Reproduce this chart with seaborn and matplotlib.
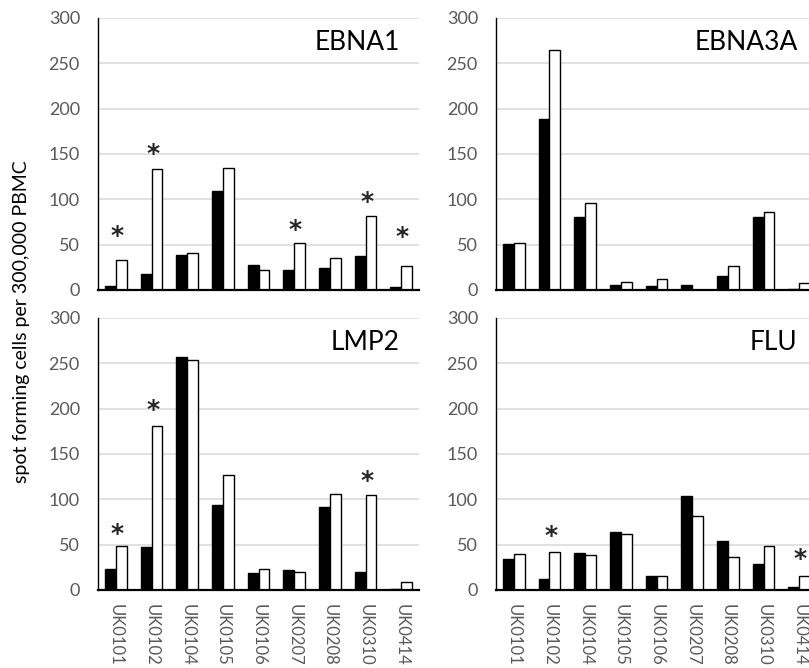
import matplotlib
matplotlib.use("Agg")
import matplotlib.pyplot as plt
import seaborn as sns
import pandas as pd

# donors on the x axis
donors = ["UK0101", "UK0102", "UK0104", "UK0105", "UK0106",
          "UK0207", "UK0208", "UK0310", "UK0414"]

# black bars / white bars, spot forming cells per 300,000 PBMC
ebna1_black = [4, 18, 39, 109, 28, 22, 24, 37, 3]
ebna1_white = [33, 134, 41, 135, 22, 52, 35, 82, 27]
ebna1_stars = [67, 158, None, None, None, 74, None, 105, 66]

ebna3a_black = [51, 189, 80, 5, 4, 5, 15, 80, 1]
ebna3a_white = [52, 265, 96, 9, 12, 0.5, 27, 86, 8]
ebna3a_stars = [None] * 9

lmp2_black = [23, 47, 257, 94, 19, 22, 91, 20, 1]
lmp2_white = [48, 181, 254, 127, 23, 20, 106, 105, 9]
lmp2_stars = [69, 206, None, None, None, None, None, 128, None]

flu_black = [34, 12, 41, 64, 15, 104, 54, 29, 3]
flu_white = [40, 42, 39, 62, 15, 82, 36, 48, 15]
flu_stars = [None, 67, None, None, None, None, None, None, 42]

panel_names = ["EBNA1", "EBNA3A", "LMP2", "FLU"]
panels = [(ebna1_black, ebna1_white, ebna1_stars),
          (ebna3a_black, ebna3a_white, ebna3a_stars),
          (lmp2_black, lmp2_white, lmp2_stars),
          (flu_black, flu_white, flu_stars)]

sns.set_style("white")
plt.rcParams["font.family"] = ["Lato", "DejaVu Sans"]

fig = plt.figure(figsize=(8.09, 6.68), dpi=100)

W, H = 809, 668
# axes boxes in pixels: left, top, right, bottom
boxes = [(98, 18, 419, 290), (496, 18, 817, 290),
         (98, 318, 419, 590), (496, 318, 817, 590)]

tick_grey = "#595959"

for k, (name, (blk, wht, stars)) in enumerate(zip(panel_names, panels)):
    l, t, r, b = boxes[k]
    ax = fig.add_axes([l / W, 1 - b / H, (r - l) / W, (b - t) / H])

    df = pd.DataFrame({
        "donor": donors * 2,
        "sfc": blk + wht,
        "group": ["black"] * len(donors) + ["white"] * len(donors),
    })
    sns.barplot(data=df, x="donor", y="sfc", hue="group", order=donors,
                palette=["black", "white"], edgecolor="black", linewidth=1,
                width=0.61, saturation=1, legend=False, ax=ax)

    # significance stars
    for i, s in enumerate(stars):
        if s is not None:
            ax.annotate("*", xy=(i + 0.03, s), xytext=(0, -10),
                        textcoords="offset points", ha="center",
                        va="baseline", fontsize=18, fontweight="bold",
                        family="DejaVu Sans")

    ax.set_ylim(0, 300)
    ax.set_xlim(-0.5, len(donors) - 0.5)
    ax.set_yticks(range(0, 301, 50))
    ax.yaxis.grid(True, color="#d9d9d9", linewidth=1.1)
    ax.set_axisbelow(True)
    ax.set_xlabel("")
    ax.set_ylabel("")

    for sp in ["top", "right"]:
        ax.spines[sp].set_visible(False)
    ax.spines["left"].set_color("black")
    ax.spines["left"].set_linewidth(1.0)
    ax.spines["bottom"].set_color("black")
    ax.spines["bottom"].set_linewidth(1.6)

    ax.tick_params(axis="y", length=0, pad=13, labelsize=13,
                   labelcolor=tick_grey)
    if k >= 2:
        ax.tick_params(axis="x", length=0, pad=10, labelsize=12,
                       labelcolor=tick_grey, labelrotation=-90)
    else:
        ax.tick_params(axis="x", length=0, labelbottom=False)

    ax.text(0.94, 0.91, name, transform=ax.transAxes, ha="right",
            va="center", fontsize=19, color="black")

fig.text(22 / W, 1 - 322 / H, "spot forming cells per 300,000 PBMC",
         rotation=90, ha="center", va="center", fontsize=14,
         color="black")

fig.savefig("out.png", dpi=100)
